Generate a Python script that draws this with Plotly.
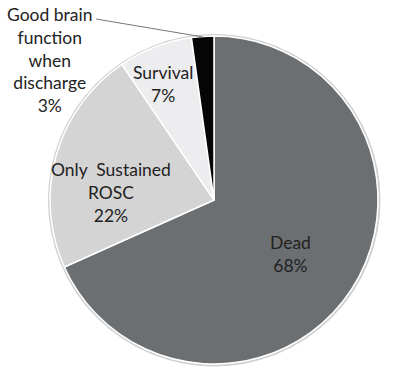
import plotly.graph_objects as go

labels = ["Dead", "Only  Sustained<br>ROSC", "Survival", "Good brain<br>function<br>when<br>discharge"]
values = [68.3, 22.2, 7.3, 2.2]
pct_text = ["68%", "22%", "7%", "3%"]
colors = ["#6c6f71", "#d4d4d4", "#ededef", "#050505"]

W, H = 400, 373
# label centre positions (pixels)
label_pos = [(290, 254), (111, 192), (163, 84), (50, 60)]

fig = go.Figure(go.Pie(
    values=values,
    labels=labels,
    sort=False,
    direction="clockwise",
    rotation=0,
    marker=dict(colors=colors, line=dict(color="white", width=1.5)),
    textinfo="none",
    hoverinfo="label+percent",
    showlegend=False,
    domain=dict(x=[50 / W, 378 / W], y=[(H - 364) / H, (H - 36) / H]),
))

for lab, pct, (px, py) in zip(labels, pct_text, label_pos):
    fig.add_annotation(
        x=px / W, y=1 - py / H, xref="paper", yref="paper",
        text=f"{lab}<br>{pct}", showarrow=False,
        xanchor="center", yanchor="middle", align="center",
        font=dict(family="Lato, Open Sans, sans-serif", size=17.5, color="#222222"),
    )

# leader line for the small slice
fig.add_shape(type="line", xref="paper", yref="paper",
              x0=96 / W, y0=1 - 19 / H, x1=203 / W, y1=1 - 37 / H,
              line=dict(color="#777777", width=1))

# faint shadow ring around the pie
fig.add_shape(type="circle", xref="paper", yref="paper", layer="below",
              x0=49 / W, y0=1 - 365.5 / H, x1=379.5 / W, y1=1 - 35 / H,
              line=dict(color="#d0d0d0", width=2), fillcolor="rgba(0,0,0,0)")

fig.update_layout(
    width=W, height=H,
    margin=dict(l=0, r=0, t=0, b=0),
    paper_bgcolor="white", plot_bgcolor="white",
)

fig.write_html("out.html")
